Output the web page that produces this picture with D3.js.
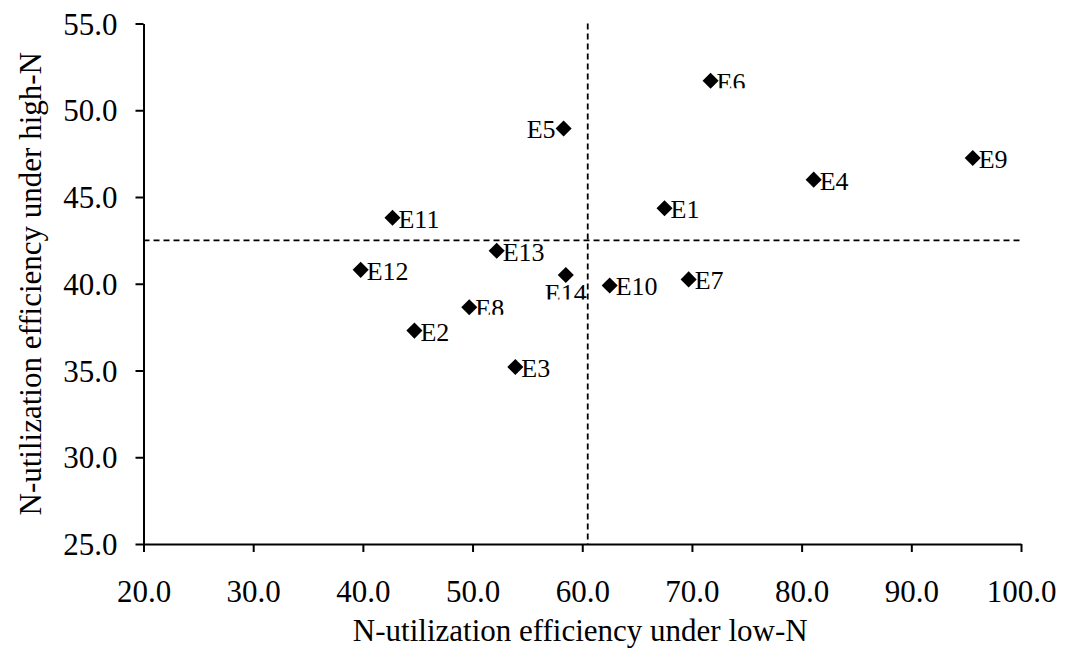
<!DOCTYPE html>
<html>
<head>
<meta charset="utf-8">
<script src="https://cdn.jsdelivr.net/npm/d3@7"></script>
<style>
  html, body { margin: 0; padding: 0; background: #fff; }
  svg { display: block; }
  text { font-family: "Liberation Serif", "Times New Roman", serif; fill: #000; }
</style>
</head>
<body>
<svg id="chart" width="1065" height="653"></svg>
<script>
// ---- data ----
const genotypes = ["E1","E2","E3","E4","E5","E6","E7","E8","E9","E10","E11","E12","E13","E14"];
const nueLowN  = [67.5, 44.7, 53.9, 81.1, 58.3, 71.7, 69.7, 49.7, 95.6, 62.5, 42.7, 39.8, 52.2, 58.5];
const nueHighN = [44.35, 37.3, 35.2, 46.0, 48.95, 51.7, 40.25, 38.65, 47.25, 39.9, 43.8, 40.8, 41.9, 40.5];
const labelSide = ["right","right","right","right","left","right","right","right","right","right","right","right","right","below"];
const labelCut  = [false,false,false,false,false,true,false,true,false,false,false,false,false,true];
const meanLowN = 60.5;
const meanHighN = 42.5;
const xTicks = [20, 30, 40, 50, 60, 70, 80, 90, 100];
const yTicks = [25, 30, 35, 40, 45, 50, 55];
const xTitle = "N-utilization efficiency under low-N";
const yTitle = "N-utilization efficiency under high-N";

// ---- layout ----
const svg = d3.select("#chart");
const L = 143.5, R = 1021, T = 23.5, B = 544;
const x = d3.scaleLinear().domain([20, 100]).range([L, R]);
const y = d3.scaleLinear().domain([25, 55]).range([B, T]);
const fmt = d3.format(".1f");

// x axis
const gx = svg.append("g").attr("transform", `translate(0,${B})`)
  .call(d3.axisBottom(x).tickValues(xTicks).tickFormat(fmt).tickSizeInner(8).tickSizeOuter(0).tickPadding(29));
// y axis
const gy = svg.append("g").attr("transform", `translate(${L},0)`)
  .call(d3.axisLeft(y).tickValues(yTicks).tickFormat(fmt).tickSizeInner(8).tickSizeOuter(0).tickPadding(18));

[gx, gy].forEach(g => {
  g.select(".domain").attr("stroke", "#000").attr("stroke-width", 2);
  g.selectAll(".tick line").attr("stroke", "#000").attr("stroke-width", 2);
  g.selectAll(".tick text").attr("font-size", 31).attr("fill", "#000");
});
gy.selectAll(".tick text").attr("dy", "0.34em");
gx.selectAll(".tick text").attr("dy", "0.68em");

// reference dashed lines
svg.append("line")
  .attr("x1", x(meanLowN)).attr("x2", x(meanLowN))
  .attr("y1", y(55)).attr("y2", y(25))
  .attr("stroke", "#000").attr("stroke-width", 1.8).attr("stroke-dasharray", "6,4");
svg.append("line")
  .attr("x1", x(20)).attr("x2", x(100))
  .attr("y1", y(meanHighN)).attr("y2", y(meanHighN))
  .attr("stroke", "#000").attr("stroke-width", 1.8).attr("stroke-dasharray", "6,4");

// points
const pts = genotypes.map((g, i) => ({ name: g, lx: nueLowN[i], hy: nueHighN[i], side: labelSide[i], cut: labelCut[i] }));
const sym = d3.symbol().type(d3.symbolDiamond2).size(165);
svg.append("g").selectAll("path").data(pts).join("path")
  .attr("d", sym)
  .attr("transform", d => `translate(${x(d.lx)},${y(d.hy)})`)
  .attr("fill", "#000");

// labels
const defs = svg.append("defs");
const lbl = svg.append("g");
pts.forEach((d, i) => {
  const px = x(d.lx), py = y(d.hy);
  let tx, ty, anchor;
  if (d.side === "left") { tx = px - 8; ty = py + 10; anchor = "end"; }
  else if (d.side === "below") { tx = px; ty = py + 27; anchor = "middle"; }
  else { tx = px + 6; ty = py + 10; anchor = "start"; }
  const t = lbl.append("text")
    .attr("x", tx).attr("y", ty)
    .attr("text-anchor", anchor)
    .attr("font-size", 26)
    .text(d.name);
  if (d.cut) {
    const id = "cut" + i;
    defs.append("clipPath").attr("id", id).append("rect")
      .attr("x", tx - 60).attr("y", ty - 40).attr("width", 120).attr("height", 37.5);
    t.attr("clip-path", `url(#${id})`);
  }
});

// axis titles
svg.append("text")
  .attr("x", (L + R) / 2 - 2).attr("y", 641)
  .attr("text-anchor", "middle").attr("font-size", 31)
  .text(xTitle);
svg.append("text")
  .attr("transform", `translate(41,${(T + B) / 2}) rotate(-90)`)
  .attr("text-anchor", "middle").attr("font-size", 31)
  .text(yTitle);
</script>
</body>
</html>
